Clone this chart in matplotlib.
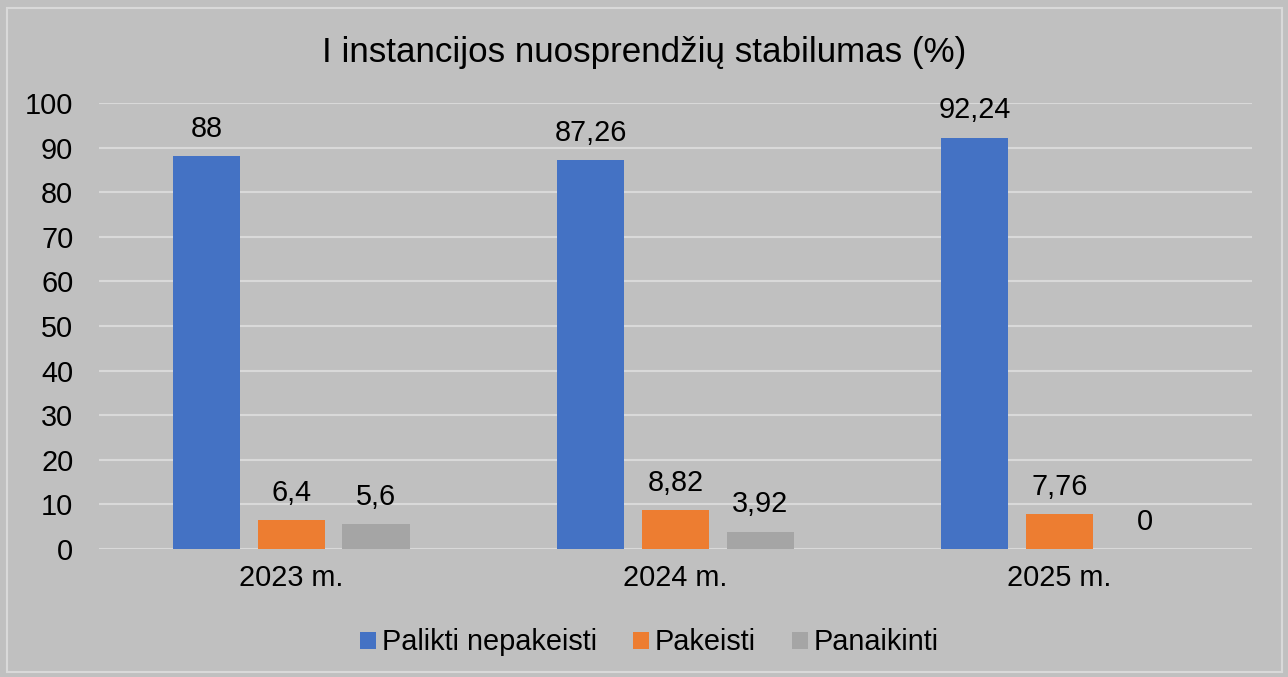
import numpy as np
import matplotlib
matplotlib.use('Agg')
import matplotlib.pyplot as plt
from matplotlib.patches import Rectangle

plt.rcParams['font.family'] = ['Liberation Sans', 'DejaVu Sans']

metai = ['2023 m.', '2024 m.', '2025 m.']
palikti = [88, 87.26, 92.24]
pakeisti = [6.4, 8.82, 7.76]
panaikinti = [5.6, 3.92, 0]
serijos = ['Palikti nepakeisti', 'Pakeisti', 'Panaikinti']
spalvos = ['#4472c4', '#ed7d31', '#a5a5a5']

fonas = '#c0c0c0'

fig = plt.figure(figsize=(12.88, 6.77), dpi=100, facecolor=fonas)
ax = fig.add_axes([0.0769, 0.189, 0.895, 0.659])
ax.set_facecolor(fonas)

x = np.arange(len(metai))
plotis = 0.175
zingsnis = 0.221

for i, (reiksmes, pav, sp) in enumerate(zip([palikti, pakeisti, panaikinti], serijos, spalvos)):
    stulpai = ax.bar(x + (i - 1) * zingsnis, reiksmes, plotis, color=sp, label=pav, zorder=3)
    etiketes = [('%g' % v).replace('.', ',') for v in reiksmes]
    ax.bar_label(stulpai, labels=etiketes, padding=9.5, fontsize=20.8)

ax.set_xlim(-0.5, 2.5)
ax.set_ylim(0, 100)
ax.set_yticks(range(0, 101, 10))
ax.set_xticks(x)
ax.set_xticklabels(metai)
ax.tick_params(axis='both', length=0, labelsize=20.8)
ax.tick_params(axis='y', pad=18.5)
ax.tick_params(axis='x', pad=11)
ax.yaxis.grid(True, color='#d9d9d9', linewidth=1.5, zorder=0)
for s in ax.spines.values():
    s.set_visible(False)

fig.text(0.5, 0.922, 'I instancijos nuosprendžių stabilumas (%)', ha='center', va='center', fontsize=25.2)

fig.legend(loc='center', bbox_to_anchor=(0.5043, 0.051), ncol=3, frameon=False, fontsize=20.8,
           handlelength=0.55, handleheight=0.55, handletextpad=0.2, columnspacing=1.25)

fig.patches.append(Rectangle((7 / 1288, 5 / 677), 1275 / 1288, 664 / 677, transform=fig.transFigure,
                             fill=False, edgecolor='#d9d9d9', linewidth=1.5))

fig.savefig('out.png', dpi=100, facecolor=fonas)
